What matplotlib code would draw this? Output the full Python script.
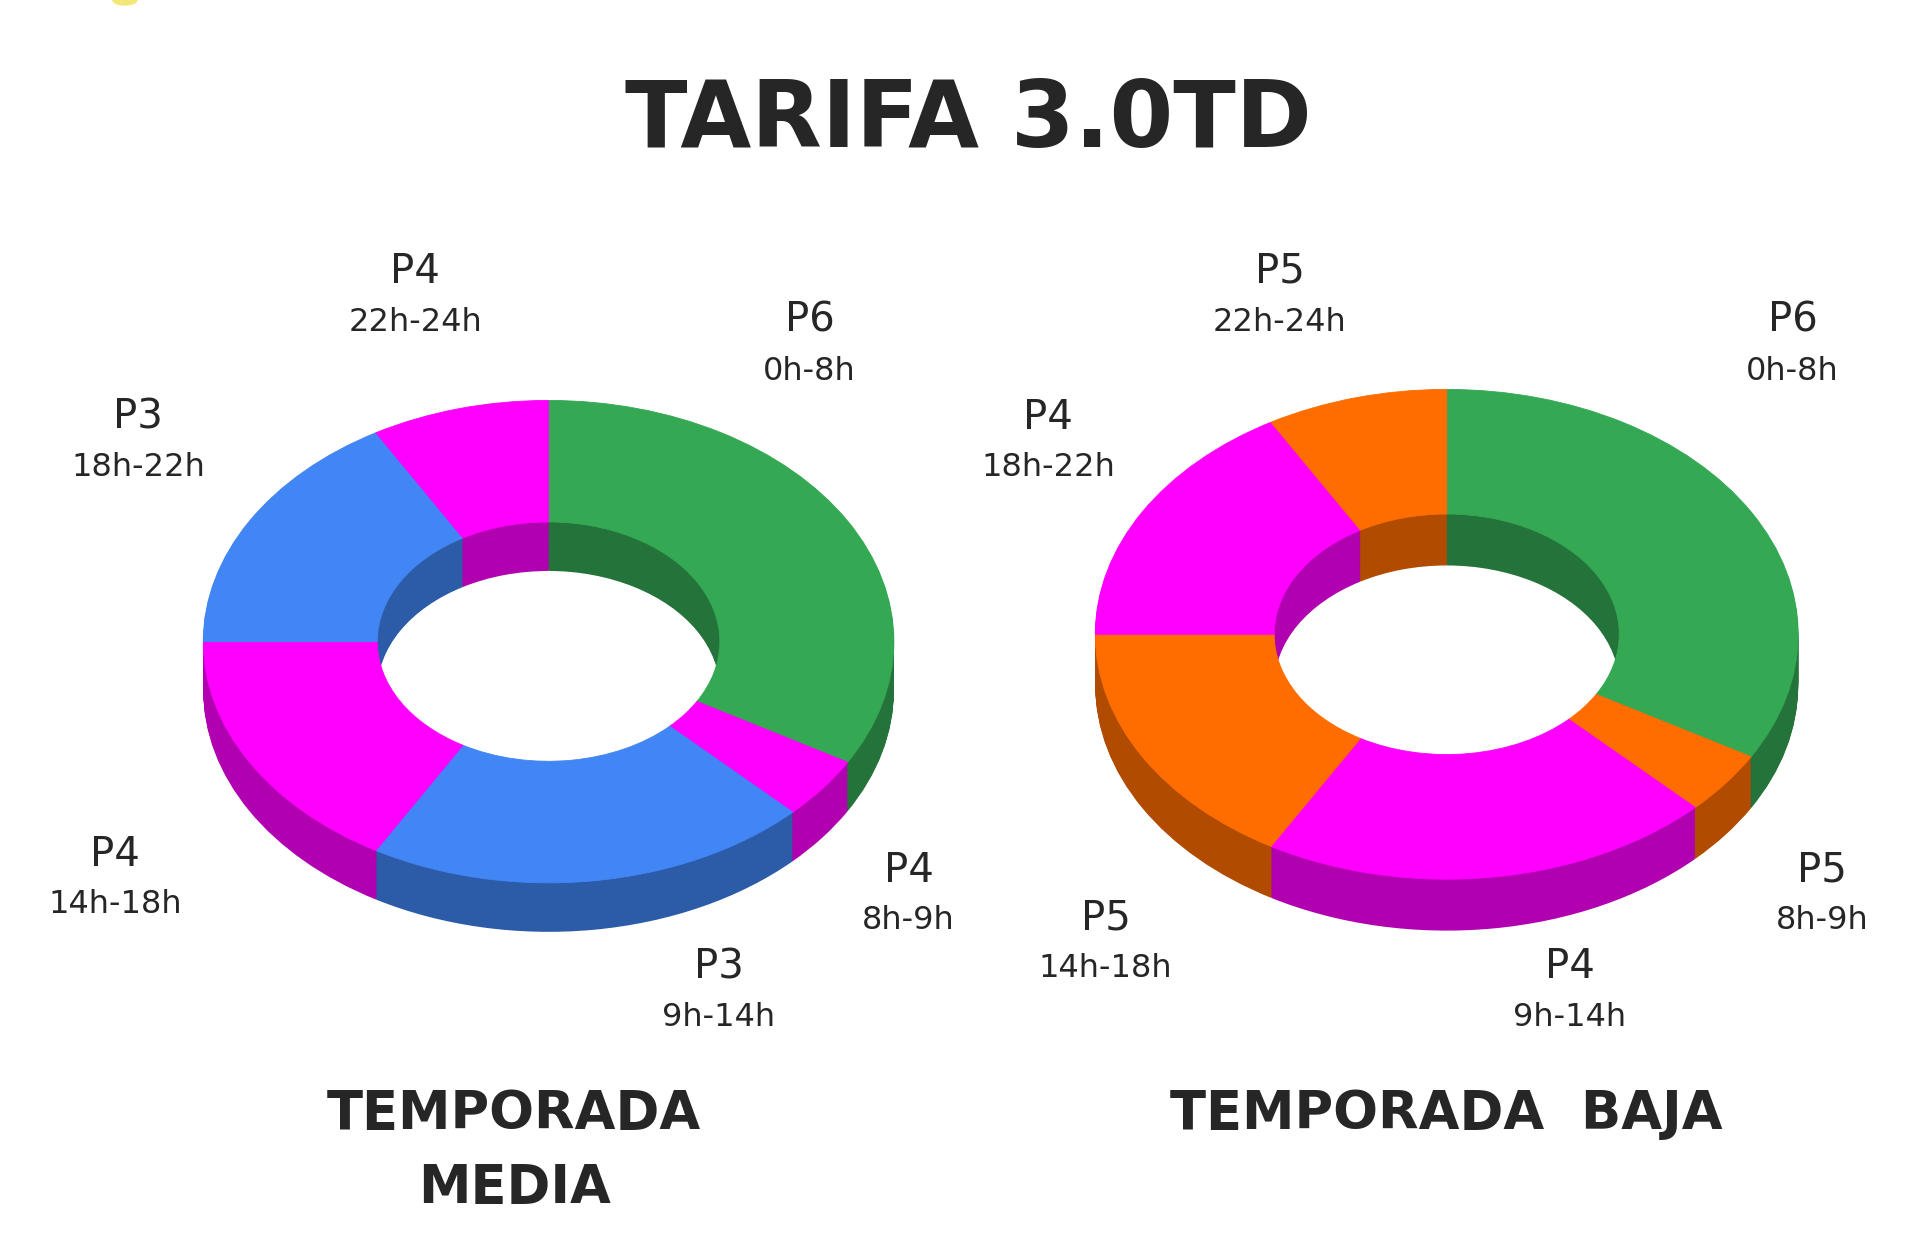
import matplotlib
matplotlib.use("Agg")
import matplotlib.pyplot as plt
from matplotlib.patches import Ellipse

W, H = 1920, 1248
S = 1920 / 1568  # coords below

hours = [8, 1, 5, 4, 4, 2]
periods_media = ["P6", "P4", "P3", "P4", "P3", "P4"]
periods_baja = ["P6", "P5", "P4", "P5", "P4", "P5"]
ranges = ["0h-8h", "8h-9h", "9h-14h", "14h-18h", "18h-22h", "22h-24h"]

top_colors = {"P3": "#4285F4", "P4": "#FF00FF", "P5": "#FF6D00", "P6": "#34A853"}
side_colors = {"P3": "#2C5BA8", "P4": "#B000B0", "P5": "#B04B00", "P6": "#24733A"}

label_xy_media = [(661, 261), (742, 710), (587, 789), (94, 697), (113, 340), (339, 221)]
label_xy_baja = [(1464, 261), (1488, 710), (1282, 789), (903, 749), (856, 340), (1045, 221)]

TEXT = "#262626"

fig = plt.figure(figsize=(W / 100, H / 100), dpi=100, facecolor="white")


def donut(periods, cx, cy, rx, ry, depth, inner):
    # one flat pie squashed by the axes box, stacked to fake the 3D side
    cx, cy, rx, ry, depth = [v * S for v in (cx, cy, rx, ry, depth)]
    ax = fig.add_axes([(cx - rx) / W, 1 - (cy + ry + depth) / H, 2 * rx / W, (2 * ry + depth) / H])
    d = depth / ry
    tops = [top_colors[p] for p in periods]
    sides = [side_colors[p] for p in periods]
    steps = int(depth)
    for i in range(steps, 0, -1):
        ax.pie(hours, colors=sides, startangle=90, counterclock=False, radius=1,
               center=(0, -d * i / steps),
               wedgeprops=dict(width=1 - inner, linewidth=0, clip_on=False))
    wedges, _ = ax.pie(hours, colors=tops, startangle=90, counterclock=False, radius=1,
                       wedgeprops=dict(width=1 - inner, linewidth=0.6, clip_on=False))
    for w in wedges:
        w.set_edgecolor(w.get_facecolor())
    ax.set_aspect("auto")
    ax.set_xlim(-1, 1)
    ax.set_ylim(-1 - d, 1)
    ax.axis("off")


def put(x, y, s, **kw):
    fig.text(x * S / W, 1 - y * S / H, s, ha="center", va="center", color=TEXT, **kw)


donut(periods_media, 448, 524, 282, 197, 40, 0.496)
donut(periods_baja, 1181.5, 518, 287, 200, 42, 0.491)

for periods, xy in [(periods_media, label_xy_media), (periods_baja, label_xy_baja)]:
    for p, r, (x, y) in zip(periods, ranges, xy):
        put(x, y + 1, p, fontsize=29, family="DejaVu Sans")
        put(x, y + 42, r, fontsize=23, family="DejaVu Sans")

put(791, 99, "TARIFA 3.0TD", fontsize=66, fontweight="bold", family="DejaVu Sans")
put(420, 910, "TEMPORADA", fontsize=38, fontweight="bold", family="DejaVu Sans")
put(420, 970, "MEDIA", fontsize=38, fontweight="bold", family="DejaVu Sans")
put(1181, 910, "TEMPORADA  BAJA", fontsize=38, fontweight="bold", family="DejaVu Sans")

# bit of a yellow shape cut off at the top edge
fig.add_artist(Ellipse((102 * S / W, 1.0), 24 / W, 10 / H, color="#F3E77A", transform=fig.transFigure))

fig.savefig("out.png", dpi=100, facecolor="white")
